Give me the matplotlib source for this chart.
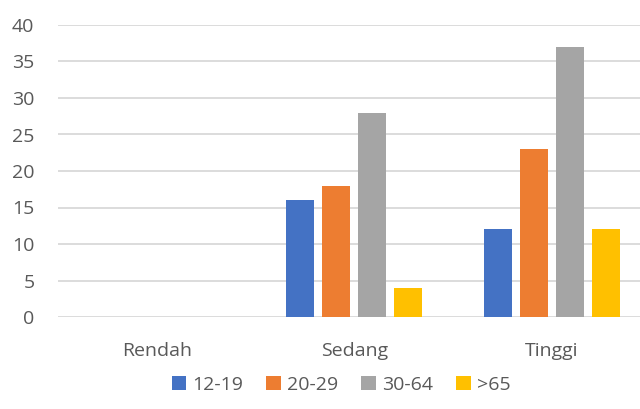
import matplotlib.pyplot as plt
import numpy as np

categories = ["Rendah", "Sedang", "Tinggi"]
series = ["12-19", "20-29", "30-64", ">65"]
v_12_19 = [0, 16, 12]
v_20_29 = [0, 18, 23]
v_30_64 = [0, 28, 37]
v_65 = [0, 4, 12]
colors = ["#4472C4", "#ED7D31", "#A5A5A5", "#FFC000"]

plt.rcParams['font.family'] = ['Open Sans', 'DejaVu Sans']

fig = plt.figure(figsize=(6.4, 4.09), dpi=100)
ax = fig.add_axes([58/640, 92/409, 1 - 58/640, 292/409])

x = np.arange(len(categories))
width = 0.142
step = 0.182
for i, (vals, name) in enumerate(zip([v_12_19, v_20_29, v_30_64, v_65], series)):
    ax.bar(x + (i - 1.5) * step, vals, width, color=colors[i], label=name, zorder=3)

ax.set_ylim(0, 40)
ax.set_yticks(range(0, 41, 5))
ax.set_xlim(-0.5, 2.447)
ax.set_xticks(x)
ax.set_xticklabels(categories)
ax.grid(axis='y', color='#d9d9d9', linewidth=1.3, zorder=0)
for s in ax.spines.values():
    s.set_visible(False)
ax.tick_params(length=0, labelsize=14, colors='#595959')
ax.tick_params(axis='x', pad=18)
ax.tick_params(axis='y', pad=17)

fig.legend(loc='center', bbox_to_anchor=(341/640, 24/409), ncol=4, frameon=False,
           fontsize=14, handlelength=0.75, handleheight=0.75, handletextpad=0.3,
           columnspacing=1.2, labelcolor='#595959')

fig.savefig('out.png', dpi=100)
